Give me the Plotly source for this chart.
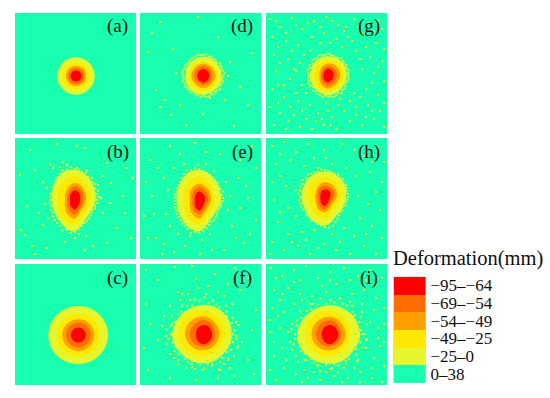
import math
import plotly.graph_objects as go

W, H = 550, 398
FONT = "Liberation Serif"
BG = "#19FFB0"
LEVEL_COLORS = ["#E6F62E", "#FFE900", "#FF9F00", "#FF6C00", "#FF0000"]

LEGEND_TITLE = "Deformation(mm)"
LEGEND_LABELS = ["−95–−64", "−69–−54", "−54–−49", "−49–−25", "−25–0", "0–38"]
LEGEND_COLORS = ["#FF0000", "#FF6C00", "#FF9F00", "#FFE900", "#E6F62E", "#19FFB0"]
LEGEND_UNITS = [1, 1, 1, 1, 1, 1]

PANEL_NAMES = ["(a)", "(b)", "(c)", "(d)", "(e)", "(f)", "(g)", "(h)", "(i)"]

CENTERS = {
    "a": (61.0, 63.0), "b": (59.7, 62.0), "c": (63.3, 71.0),
    "d": (63.3, 63.0), "e": (59.3, 63.0), "f": (64.0, 70.3),
    "g": (62.0, 62.7), "h": (59.0, 59.0), "i": (64.0, 70.3),
}

# outline radii read clockwise from east; outermost level first
RADII_A = [[18.7]*12, [13.3]*12, [10.0]*12, [8.0]*12, [5.5]*12]
RADII_B = [
    [21,20,19.5,20,22,26,31,30,27,25,23.5,23,22.5,23.5,24.5,27,29.5,30.5,30,29,26.5,24.5,22.5,21.5],
    [15.5,15.5,17.5,24.5,22,18.5,17,18.5,22,24,20,17],
    [11.3,11,12.5,18.7,15.5,11.5,9.7,11,14,17,15,12.5],
    [8.7,8.5,10,14.7,11.5,8.5,7.3,8,10.5,13.7,12,10],
    [5.3,5.7,7,9.7,7.5,5.5,4.7,5.5,7.5,9.7,8.5,6.5],
]
RADII_C = [
    [29.8,29.5,29.2,29,29.5,30,30,29.7,29.2,29,29.3,29.6],
    [21.7,21.5,21.5,21.7,21.5,21.7,21.7,21.5,21.5,21.5,21.7,21.5],
    [16,16,16,16.3,16,16,16,16,15.7,15.7,16,16],
    [12.3,12.3,12.3,12.5,12.3,12.3,12.3,12.3,12.2,12.2,12.3,12.3],
    [7.5,7.5,7.5,7.7,7.5,7.5,7.5,7.5,7.5,7.5,7.5,7.5],
]
RADII_D = [
    [18.3,18.3,18.5,18.2,18.7,18.5,19,18.6,18.8,19,18.4,18.6,18.3,18.6,18.5,18.8,18.9,19.2,19.3,19.3,18.8,18.6,18.3,18.5],
    [14.5,14.5,14.5,15,14.5,14.5,14.5,14.5,14.7,15,14.5,14.3],
    [12,11.5,11.5,12,11.5,11.5,12,11.7,12,12.5,12,12],
    [9,8.7,8.7,9,8.7,8.7,9,9,9.5,10,9.5,9],
    [6,5.9,6,6.7,6.1,5.9,6,6.1,6.5,6.7,6.5,6],
]
RADII_E = [
    [21.5,20.5,19.5,20,22,26,30.5,29.5,27,25,23.5,23,22.5,23.5,24.5,26.5,29,31,31,29.5,26.5,25,23,22.5],
    [15.5,15,16.5,23.5,21,17.5,16.5,18,22,24.5,20,17],
    [11.5,10.5,12,17.5,14.5,11,9.5,11,15,17.5,15,13],
    [8.5,8,9.5,13.5,11,8,7,8,11.5,14,12,10],
    [5.5,5.3,6.5,9.5,7.5,5.3,4.5,5.3,7.5,9.5,8,6.5],
]
RADII_F = [
    [27.7,28,27.5,27.5,28,29,29,29.5,29.5,30,30.5,31.5,32,31,30.5,30,29.5,29.3,29.3,29.5,29.3,29,28.5,28],
    [21,20.5,21,22,23.5,24.5,25.7,25.5,25,24,22.5,21.5],
    [15.3,15,15.5,15.7,17,18,19,19,18.5,17.7,16.5,15.5],
    [11,11,11.5,12.3,13,14,14,14,14,14.3,13,11.5],
    [8,8.3,9,10,9.5,8.5,8,8.5,9,9.3,9,8.2],
]
RADII_G = [
    [18.7,18.5,18.3,18.5,19,19.2,19.5,19.2,18.8,18.5,18.2,18.2,18,18.2,18.5,19,19.3,19.5,19.5,19.4,19.5,19.5,19.3,19],
    [15.5,15,15,15.5,15,14.5,14,14.5,15,15.3,15.5,15.7],
    [12,11.5,12,12.7,11.5,9.7,8.7,9.5,11,12.3,12.5,12.3],
    [9,8.7,9,10,9,7.5,7,7.5,8.7,9.7,9.5,9.3],
    [5.3,5.4,5.8,6.7,6,5.1,4.7,5.1,6,7.3,6.8,6],
]
RADII_H = [
    [21,20.5,20.5,21,22,25.5,28.5,28,26.5,25,23.5,23.5,23.3,24,24,25,25,25.5,25.5,25,24.5,24,23,22],
    [16,14.5,15.5,21.5,19.5,17,17,18.5,20,20,19,17],
    [11.5,10,11,15.5,14,10.5,10,10.5,13,15,14,13],
    [8.5,7.5,8.5,12.5,11,8,7.5,8.5,10.5,11.5,11,10.5],
    [5.2,5,6,9,7.5,5.2,4.7,5.2,7,7.5,7.5,6.5],
]
RADII_I = [
    [30,29.5,28.5,28.5,29,29.5,29.5,30,30.5,31,32,33,33,32,31,30,29.5,29,29,29,29,29.3,29.5,29.7],
    [20.5,20.5,21,22,23,24,25,25,24.5,23.5,22,21],
    [15.5,15.5,15.5,16,17,18,18.5,18.5,18,17.5,16.5,15.5],
    [11.3,11,11.5,12,13,13.5,14,14,14,14,13,11.5],
    [8.3,8.4,9,10,9.5,8.5,8.3,8.5,9,9.3,9,8.3],
]

# speckle radii around each blob, read at even angular steps clockwise from east
FUZZ_B = [22,23,21,22,20,21,22,23,24,25,27,29,32,33,31,33,30,29,28,27,25,26,24,25,24,25,25,24,26,25,27,28,30,32,31,33,31,30,29,30,27,28,25,26,23,25,22,24]
FUZZ_D = [20,19,20,20,19,21,20,20,21,20,21,21,20,21,20,20,19,21,20,20,21,20,21,20,20,21,21,20,21,20,20,21,21,21,22,21,21,22,20,21,20,20,19,21,20,20,20,21]
FUZZ_E = [23,22,22,21,21,22,23,24,24,26,28,30,32,31,33,30,29,28,27,26,26,25,25,24,24,25,25,24,26,26,27,29,31,33,32,33,32,30,29,28,27,26,26,24,24,25,23,24]
FUZZ_F = [29,33,30,36,31,29,34,30,32,38,31,30,34,31,36,32,32,31,37,32,34,31,33,36,33,38,34,32,37,33,32,36,33,31,36,34,37,32,35,32,31,36,32,29,33,30,36,31]
FUZZ_G = [20,21,20,19,20,21,20,22,20,21,22,21,21,20,22,21,21,20,21,19,20,21,20,20,19,20,21,20,21,20,22,21,21,22,21,21,22,21,21,20,20,22,21,20,21,20,21,20]
FUZZ_H = [23,22,21,22,20,22,21,23,25,27,30,31,30,29,28,26,27,25,26,24,25,26,25,26,25,27,26,27,26,28,27,28,27,27,26,28,27,26,26,25,26,24,25,23,24,23,22,23]
FUZZ_I = [32,37,31,35,30,33,38,31,31,36,32,30,35,31,38,33,33,31,36,32,34,32,38,35,35,39,34,36,33,38,33,31,35,32,37,31,34,32,37,33,33,36,32,31,35,32,38,31]

# yellow speckles away from the blobs (panel x, panel y)
SPECK_B = [(15,12),(42,6),(62,8),(5,37),(20,32),(35,26),(48,24),(70,10),(92,25),(112,30),(100,9),(118,40),
           (96,45),(88,38),(108,58),(95,65),(88,75),(110,75),(102,90),(116,100),(92,105),(78,108),(70,112),(60,100),
           (50,104),(32,110),(20,116),(10,97),(6,92),(17,108),(28,87),(24,75),(12,68),(32,50),(28,44),(64,96),
           (71,98),(83,47),(86,60),(30,66),(33,80),(38,30),(45,29),(52,27),(62,30),(72,32)]
SPECK_D = [(20,9),(8,39),(33,36),(16,77),(25,87),(31,102),(85,87),(90,49),(20,94),(63,101),(100,74),(58,4),
           (108,92),(112,40),(46,112),(70,85),(94,113),(78,24),(12,20),(40,92),(36,60),(88,63)]
SPECK_E = [(10,22),(30,8),(55,5),(80,16),(112,8),(98,40),(108,60),(116,82),(104,105),(84,112),(62,102),(45,108),
           (22,116),(8,100),(4,78),(12,58),(24,40),(34,30),(44,26),(58,27),(66,26),(74,33),(86,44),(90,58),
           (88,72),(92,88),(30,88),(26,76),(28,52),(38,96),(50,98),(70,96),(16,100),(60,116),(100,22),(72,112),
           (6,44),(40,16),(116,30),(34,114),(18,30),(66,14),(106,48),(96,100),(24,106),(14,76),(110,96),(100,70)]
SPECK_F = [(6,6),(18,16),(35,3),(52,2),(56,15),(75,10),(95,4),(108,14),(100,26),(88,20),(68,22),(58,24),
           (48,30),(40,36),(30,42),(22,62),(10,60),(6,40),(24,52),(26,72),(18,76),(30,90),(38,100),(46,104),
           (52,103),(62,106),(72,102),(84,100),(94,92),(102,78),(96,58),(92,40),(84,32),(78,28),(66,30),(50,36),
           (116,46),(112,66),(108,96),(114,110),(94,112),(78,114),(56,116),(30,114),(8,106),(4,84),(96,72),(98,82),
           (34,94),(42,30),(80,106),(88,96),(90,104),(27,80),(32,60),(38,28)]
SPECK_G = [(4,6),(14,14),(26,5),(36,16),(48,8),(60,4),(72,12),(88,6),(6,24),(20,28),(32,32),(46,24),
           (58,20),(70,26),(82,24),(96,20),(110,30),(116,16),(8,42),(22,46),(34,50),(90,38),(104,44),(116,48),
           (10,58),(24,66),(36,72),(96,56),(108,60),(118,68),(6,76),(18,84),(32,88),(44,92),(60,90),(74,86),
           (88,80),(100,76),(112,82),(4,94),(14,100),(28,102),(40,106),(52,100),(66,104),(78,98),(90,94),(102,92),
           (114,98),(8,112),(20,116),(34,114),(46,116),(58,112),(70,116),(84,108),(96,112),(108,106),(118,114),(30,58),
           (94,46),(86,28),(44,38),(54,30),(80,14),(100,104),(64,112),(12,72),(112,8),(40,80),(10,8),(20,20),
           (30,12),(42,10),(54,14),(66,8),(78,18),(92,14),(102,10),(12,34),(26,38),(38,42),(14,50),(28,56),
           (18,72),(30,80),(12,90),(24,94),(36,98),(50,108),(62,98),(72,92),(84,88),(94,84),(106,70),(112,54),
           (100,34),(76,34),(64,30),(108,18),(118,36),(118,90),(106,98),(90,102),(56,106),(22,108)]
SPECK_H = [(6,8),(18,4),(30,14),(42,6),(58,12),(76,6),(98,18),(112,10),(10,26),(24,22),(38,28),(52,30),
           (66,26),(80,30),(90,38),(104,34),(116,44),(6,44),(20,48),(30,52),(92,58),(102,66),(114,72),(8,62),
           (22,70),(30,78),(94,80),(106,88),(116,100),(12,84),(22,96),(36,94),(48,92),(66,96),(78,90),(88,98),
           (6,104),(18,112),(32,108),(44,116),(58,106),(70,112),(84,116),(98,108),(110,116),(118,24),(4,116),(52,110),
           (14,16),(48,20),(88,12),(106,24),(14,38),(110,54),(14,74),(100,96),(26,104),(74,104),(40,102),(60,20)]
SPECK_I = [(5,4),(16,12),(28,6),(40,2),(52,14),(64,8),(78,4),(92,12),(104,6),(116,14),(8,26),(22,24),
           (34,30),(46,32),(60,28),(74,34),(86,30),(98,26),(110,34),(118,44),(6,44),(18,48),(28,40),(26,60),
           (14,64),(4,68),(24,78),(16,84),(30,92),(8,92),(40,96),(52,102),(66,104),(80,100),(92,96),(100,84),
           (98,70),(104,58),(96,48),(112,64),(114,82),(108,94),(118,102),(4,106),(18,104),(30,110),(42,114),(54,116),
           (68,112),(82,114),(94,108),(106,114),(116,118),(10,116),(36,36),(60,108),(72,108),(88,104),(32,98),(96,40),
           (44,40),(84,38),(26,86),(100,76),(48,108),(22,68),(110,20),(14,36),(70,20),(56,22),(10,14),(34,16),
           (84,16),(100,16),(16,30),(108,46),(12,52),(8,78),(112,74),(106,104),(20,96),(38,106),(76,118),(94,118),
           (64,16),(28,18),(118,60),(4,56),(118,78),(36,118)]

PANELS = [
    ("a", RADII_A, [], [], 15, 13), ("b", RADII_B, SPECK_B, FUZZ_B, 15, 138), ("c", RADII_C, [], [], 15, 264),
    ("d", RADII_D, SPECK_D, FUZZ_D, 140, 13), ("e", RADII_E, SPECK_E, FUZZ_E, 140, 138), ("f", RADII_F, SPECK_F, FUZZ_F, 140, 264),
    ("g", RADII_G, SPECK_G, FUZZ_G, 266, 13), ("h", RADII_H, SPECK_H, FUZZ_H, 266, 138), ("i", RADII_I, SPECK_I, FUZZ_I, 266, 264),
]
PANEL_SIZE = 121.0

fig = go.Figure()
layout = {}
for idx, (key, radii, specks, fuzz, left, top) in enumerate(PANELS):
    n = idx + 1
    suffix = "" if n == 1 else str(n)
    xname, yname = "x" + suffix, "y" + suffix
    layout["xaxis" + suffix] = dict(domain=[left / W, (left + PANEL_SIZE) / W], range=[0, PANEL_SIZE],
                                    visible=False, anchor=yname)
    layout["yaxis" + suffix] = dict(domain=[1 - (top + PANEL_SIZE) / H, 1 - top / H], range=[PANEL_SIZE, 0],
                                    visible=False, anchor=xname)
    cx, cy = CENTERS[key]
    sx = [p[0] for p in specks] + [cx + r * math.cos(2 * math.pi * k / len(fuzz)) for k, r in enumerate(fuzz)]
    sy = [p[1] for p in specks] + [cy + r * math.sin(2 * math.pi * k / len(fuzz)) for k, r in enumerate(fuzz)]
    if sx:
        fig.add_trace(go.Scatter(x=sx, y=sy, mode="markers",
                                 marker=dict(symbol="square", size=2, color="#EDF02A"),
                                 xaxis=xname, yaxis=yname, showlegend=False, hoverinfo="skip"))
    for lvl, rs in enumerate(radii):
        m = len(rs)
        xs = [cx + r * math.cos(2 * math.pi * k / m) for k, r in enumerate(rs)] + [cx + rs[0]]
        ys = [cy + r * math.sin(2 * math.pi * k / m) for k, r in enumerate(rs)] + [cy]
        fig.add_trace(go.Scatter(x=xs, y=ys, mode="lines", fill="toself", fillcolor=LEVEL_COLORS[lvl],
                                 line=dict(width=0, color=LEVEL_COLORS[lvl], shape="spline"),
                                 xaxis=xname, yaxis=yname, showlegend=False, hoverinfo="skip"))
    fig.add_annotation(x=102.5, y=13.5, xref=xname, yref=yname, text=PANEL_NAMES[idx], showarrow=False,
                       font=dict(family=FONT, size=19, color="#111111"))

layout["xaxis10"] = dict(domain=[393.5 / W, 425.5 / W], range=[0, 1], visible=False, anchor="y10")
layout["yaxis10"] = dict(domain=[1 - 382.7 / H, 1 - 276.7 / H], anchor="x10", side="right", type="category",
                         categoryorder="array", categoryarray=LEGEND_LABELS[::-1], showgrid=False, zeroline=False,
                         showline=False, ticks="", ticklabelstandoff=4, tickmode="array",
                         tickvals=LEGEND_LABELS, ticktext=LEGEND_LABELS,
                         tickfont=dict(family=FONT, size=17, color="#111111"))
fig.add_trace(go.Bar(y=LEGEND_LABELS, x=LEGEND_UNITS, orientation="h", marker=dict(color=LEGEND_COLORS, line_width=0),
                     width=1, xaxis="x10", yaxis="y10", showlegend=False, hoverinfo="skip"))
fig.add_annotation(x=391 / W, y=1 - 258.5 / H, xref="paper", yref="paper", xanchor="left", yanchor="middle",
                   text=LEGEND_TITLE, showarrow=False, font=dict(family=FONT, size=20.5, color="#111111"))

fig.update_layout(width=W, height=H, margin=dict(l=0, r=0, t=0, b=0), paper_bgcolor="white", plot_bgcolor=BG,
                  bargap=0, **layout)
fig.write_html("out.html", config={"displayModeBar": False},
               post_script="document.body.style.margin='0';")
